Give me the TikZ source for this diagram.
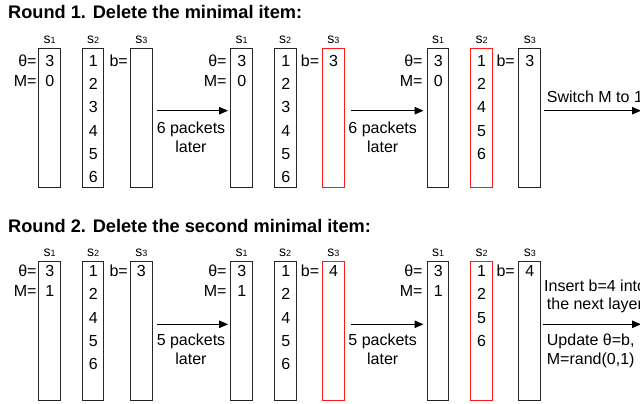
\documentclass[tikz,border=0pt]{standalone}
\usepackage{fontspec}
\setmainfont{Liberation Sans}
\usetikzlibrary{arrows.meta}
\newcommand\slab[1]{{\fontsize{14}{14}\selectfont s}{\fontsize{9}{9}\selectfont #1}}
\begin{document}
\begin{tikzpicture}[x=1pt,y=-1pt,
  box/.style={draw=black!85, line width=1pt, inner sep=0pt, minimum width=21.5pt},
  redbox/.style={box, draw=red!90},
  txt/.style={inner sep=0pt, anchor=base, font=\fontsize{16}{18}\selectfont},
  rtxt/.style={txt, anchor=base east},
  ltxt/.style={txt, anchor=base west},
  lab/.style={inner sep=0pt, anchor=base},
  ttl/.style={inner sep=0pt, anchor=base west, font=\fontsize{18.2}{20}\selectfont\bfseries},
  arr/.style={line width=1pt, -{Triangle[length=9pt,width=7.5pt]}}
]
\useasboundingbox (0,0) rectangle (640,404);

% ---------------- Round 1 ----------------
\node[ttl] (t1) at (8,18.3) {Round 1. Delete the minimal item:};

% panel 1
\node[box, minimum height=138pt] (r1a1) at (49.7,118) {};
\node[box, minimum height=138pt] (r1a2) at (93.2,118) {};
\node[box, minimum height=138pt] (r1a3) at (141.3,118) {};
% panel 2
\node[box, minimum height=138pt] (r1b1) at (241.7,118) {};
\node[box, minimum height=138pt] (r1b2) at (285.7,118) {};
\node[redbox, minimum height=138pt] (r1b3) at (333.5,118) {};
% panel 3
\node[box, minimum height=138pt] (r1c1) at (438.2,118) {};
\node[redbox, minimum height=138pt] (r1c2) at (481.5,118) {};
\node[box, minimum height=138pt] (r1c3) at (529.7,118) {};

% labels
\foreach \p/\x in {a/0,b/192,c/388.5}{
  \node[lab] (r1\p l1) at (49.7+\x,43.3) {\slab{1}};
  \node[lab] (r1\p l2) at (93.2+\x,43.3) {\slab{2}};
  \node[lab] (r1\p l3) at (141.3+\x,43.3) {\slab{3}};
}

% theta / M / b labels
\node[rtxt] (r1ath) at (36.7,66.7) {θ=};
\node[rtxt] (r1aM) at (36.7,86) {M=};
\node[rtxt] (r1ab) at (128,66.7) {b=};
\node[rtxt] (r1bth) at (226.7,66.7) {θ=};
\node[rtxt] (r1bM) at (226.7,86) {M=};
\node[rtxt] (r1bb) at (319.3,66.7) {b=};
\node[rtxt] (r1cth) at (422.7,66.7) {θ=};
\node[rtxt] (r1cM) at (422.7,86) {M=};
\node[rtxt] (r1cb) at (515,66.7) {b=};

% s1 values
\node[txt] (r1av1) at (49.7,66.7) {3};
\node[txt] (r1av2) at (49.7,86) {0};
\node[txt] (r1bv1) at (241.7,66.7) {3};
\node[txt] (r1bv2) at (241.7,86) {0};
\node[txt] (r1cv1) at (438.2,66.7) {3};
\node[txt] (r1cv2) at (438.2,86) {0};

% s2 values
\foreach \v [count=\i from 0] in {1,2,3,4,5,6}{
  \node[txt] (r1aw\i) at (93.2,66.7+23.1*\i) {\v};
  \node[txt] (r1bw\i) at (285.7,66.7+23.1*\i) {\v};
}
\foreach \v [count=\i from 0] in {1,2,4,5,6}{
  \node[txt] (r1cw\i) at (481.5,66.7+23.1*\i) {\v};
}
% s3 values
\node[txt] (r1bs3) at (333.5,66.7) {3};
\node[txt] (r1cs3) at (529.7,66.7) {3};

% arrows
\coordinate (r1e1s) at (156.7,110.7);
\coordinate (r1e1e) at (228,110.7);
\coordinate (r1e2s) at (350.7,110.7);
\coordinate (r1e2e) at (423.5,110.7);
\coordinate (r1e3s) at (544,110.7);
\coordinate (r1e3e) at (641,110.7);
\draw[arr] (r1e1s) -- (r1e1e);
\draw[arr] (r1e2s) -- (r1e2e);
\draw[arr] (r1e3s) -- (r1e3e);
\node[txt] (r1p1a) at (191,133) {6 packets};
\node[txt] (r1p1b) at (191,152) {later};
\node[txt] (r1p2a) at (382.7,133) {6 packets};
\node[txt] (r1p2b) at (382.7,152) {later};
\node[ltxt] (r1sw) at (546.7,102.5) {Switch M to 1};

% ---------------- Round 2 ----------------
\node[ttl] (t2) at (8,232.5) {Round 2. Delete the second minimal item:};

\node[box, minimum height=139pt] (r2a1) at (49.7,330.5) {};
\node[box, minimum height=139pt] (r2a2) at (93.2,330.5) {};
\node[box, minimum height=139pt] (r2a3) at (141.3,330.5) {};
\node[box, minimum height=139pt] (r2b1) at (241.7,330.5) {};
\node[box, minimum height=139pt] (r2b2) at (285.7,330.5) {};
\node[redbox, minimum height=139pt] (r2b3) at (333.5,330.5) {};
\node[box, minimum height=139pt] (r2c1) at (438.2,330.5) {};
\node[redbox, minimum height=139pt] (r2c2) at (481.5,330.5) {};
\node[box, minimum height=139pt] (r2c3) at (529.7,330.5) {};

\foreach \p/\x in {a/0,b/192,c/388.5}{
  \node[lab] (r2\p l1) at (49.7+\x,256.5) {\slab{1}};
  \node[lab] (r2\p l2) at (93.2+\x,256.5) {\slab{2}};
  \node[lab] (r2\p l3) at (141.3+\x,256.5) {\slab{3}};
}

\node[rtxt] (r2ath) at (36.7,276.5) {θ=};
\node[rtxt] (r2aM) at (36.7,296.5) {M=};
\node[rtxt] (r2ab) at (128,276.5) {b=};
\node[rtxt] (r2bth) at (226.7,276.5) {θ=};
\node[rtxt] (r2bM) at (226.7,296.5) {M=};
\node[rtxt] (r2bb) at (319.3,276.5) {b=};
\node[rtxt] (r2cth) at (422.7,276.5) {θ=};
\node[rtxt] (r2cM) at (422.7,296.5) {M=};
\node[rtxt] (r2cb) at (515,276.5) {b=};

\node[txt] (r2av1) at (49.7,276.5) {3};
\node[txt] (r2av2) at (49.7,296.5) {1};
\node[txt] (r2bv1) at (241.7,276.5) {3};
\node[txt] (r2bv2) at (241.7,296.5) {1};
\node[txt] (r2cv1) at (438.2,276.5) {3};
\node[txt] (r2cv2) at (438.2,296.5) {1};

\foreach \v [count=\i from 0] in {1,2,4,5,6}{
  \node[txt] (r2aw\i) at (93.2,276.5+23.3*\i) {\v};
  \node[txt] (r2bw\i) at (285.7,276.5+23.3*\i) {\v};
}
\foreach \v [count=\i from 0] in {1,2,5,6}{
  \node[txt] (r2cw\i) at (481.5,276.5+23.3*\i) {\v};
}
\node[txt] (r2as3) at (141.3,276.5) {3};
\node[txt] (r2bs3) at (333.5,276.5) {4};
\node[txt] (r2cs3) at (529.7,276.5) {4};

\coordinate (r2e1s) at (156.7,324.3);
\coordinate (r2e1e) at (228,324.3);
\coordinate (r2e2s) at (350.7,324.3);
\coordinate (r2e2e) at (423.5,324.3);
\coordinate (r2e3s) at (542.7,324.3);
\coordinate (r2e3e) at (641,324.3);
\draw[arr] (r2e1s) -- (r2e1e);
\draw[arr] (r2e2s) -- (r2e2e);
\draw[arr] (r2e3s) -- (r2e3e);
\node[txt] (r2p1a) at (191,345.5) {5 packets};
\node[txt] (r2p1b) at (191,364) {later};
\node[txt] (r2p2a) at (382.7,345.5) {5 packets};
\node[txt] (r2p2b) at (382.7,364) {later};
\node[ltxt] (r2ins1) at (544,291) {Insert b=4 into};
\node[ltxt] (r2ins2) at (546.7,309) {the next layer};
\node[ltxt] (r2up1) at (546.7,345.5) {Update θ=b,};
\node[ltxt] (r2up2) at (546.7,364) {M=rand(0,1)};
\end{tikzpicture}
\end{document}
